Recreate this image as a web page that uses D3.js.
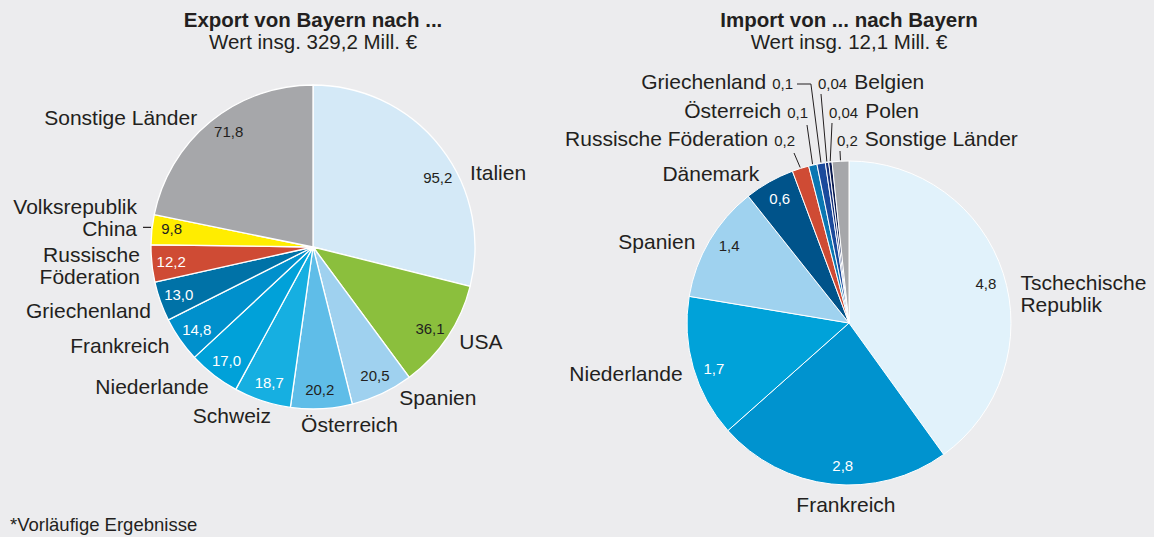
<!DOCTYPE html>
<html><head><meta charset="utf-8">
<script src="https://cdn.jsdelivr.net/npm/d3@7"></script>
<style>
body{margin:0;background:#ececee}
svg{display:block}
text{font-family:"Liberation Sans",Arial,Helvetica,sans-serif;fill:#231f20}
</style>
</head><body>
<svg id="chart" width="1154" height="537"></svg>
<script>
// ---------- DATA ----------
const exportTitle = "Export von Bayern nach ...";
const exportSubtitle = "Wert insg. 329,2 Mill. €";
const exportCountries = [["Italien"],["USA"],["Spanien"],["Österreich"],["Schweiz"],["Niederlande"],["Frankreich"],["Griechenland"],["Russische","Föderation"],["Volksrepublik","China"],["Sonstige Länder"]];
const exportValues = [95.2,36.1,20.5,20.2,18.7,17.0,14.8,13.0,12.2,9.8,71.8];

const importTitle = "Import von ... nach Bayern";
const importSubtitle = "Wert insg. 12,1 Mill. €";
const importCountries = [["Tschechische","Republik"],["Frankreich"],["Niederlande"],["Spanien"],["Dänemark"],["Russische Föderation"],["Österreich"],["Griechenland"],["Belgien"],["Polen"],["Sonstige Länder"]];
const importValues = [4.8,2.8,1.7,1.4,0.6,0.2,0.1,0.1,0.04,0.04,0.2];

const footnote = "*Vorläufige Ergebnisse";

// ---------- STYLE / LAYOUT ----------
const exportColors = ["#d4e9f7","#8bbf3d","#9fd1ef","#5fbde8","#16afe1","#00a1d9","#0090cc","#0072a7","#cf4b34","#ffed00","#a6a7aa"];
const exportValueFill = ["#231f20","#231f20","#231f20","#231f20","#fff","#fff","#fff","#fff","#fff","#231f20","#231f20"];
const exportNameAnchor = ["start","start","start","middle","end","end","end","end","end","end","end"];
const exportNameNudge = [12.5,-1,-4.5,-9.1,-4.3,-0.9,0.5,-1.7,-0.2,0,-2.5];
const exportValueNudge = [9,1,-0.5,0.3,-0.4,-0.4,-0.5,0,0,1.4,3];

const importColors = ["#e1f2fb","#0093cf","#00a2d9","#9fd2ef","#00538a","#cf4b34","#0a77b2","#1b4a9c","#142f79","#0b1b4f","#a6a7aa"];
const importValueFill = ["#231f20","#fff","#fff","#231f20","#fff"];
const importNameAnchor = ["start","middle","end","end","end"];
const importNameNudge = [8,-5.3,-0.9,-2.5,-1.6];
const importValueNudge = [1.7,-3.8,-2.5,2.3,0.4];
// small slices: row (0 top), side, x offset from pie centre of the value text anchor
const importSmall = {5:{row:2,side:"L",x:-54},6:{row:1,side:"L",x:-41},7:{row:0,side:"L",x:-56,elbow:true},
                     8:{row:0,side:"R",x:-31},9:{row:1,side:"R",x:-20},10:{row:2,side:"R",x:-12}};
const smallRowOffsets = [-72,-43,-15];

const svg = d3.select("#chart");
const fmt = v => v.toFixed(v < 0.1 ? 2 : 1).replace(".", ",");
const rad = d => d * Math.PI / 180;
const pt = (a, R) => [R * Math.sin(a), -R * Math.cos(a)];
const TXT = "#231f20";

function drawPie(cfg) {
  const g = svg.append("g").attr("transform", `translate(${cfg.cx},${cfg.cy})`);
  const data = cfg.values.map((v, i) => ({value: v, names: cfg.names[i], i}));
  const arcs = d3.pie().sort(null).value(d => d.value)(data);
  const arc = d3.arc().innerRadius(0).outerRadius(cfg.r);

  g.selectAll("path.slice").data(arcs).join("path")
    .attr("class","slice")
    .attr("d", arc)
    .attr("fill", d => cfg.colors[d.index])
    .attr("stroke", "#fff")
    .attr("stroke-width", cfg.stroke)
    .attr("stroke-linejoin", "round");

  // titles
  svg.append("text").attr("x", cfg.cx).attr("y", 27).attr("text-anchor","middle")
    .attr("font-size", 20.5).attr("font-weight","bold").text(cfg.title);
  svg.append("text").attr("x", cfg.cx).attr("y", 49).attr("text-anchor","middle")
    .attr("font-size", 20.5).text(cfg.subtitle);

  arcs.forEach(d => {
    const i = d.index;
    const mid = (d.startAngle + d.endAngle) / 2;
    const small = cfg.small && cfg.small[i];
    if (!small) {
      const va = mid + rad(cfg.valueNudge[i] || 0);
      const vp = pt(va, cfg.r * 0.88);
      g.append("text").attr("x", vp[0]).attr("y", vp[1]).attr("dy","0.35em")
        .attr("text-anchor","middle").attr("font-size", 15)
        .style("fill", cfg.valueFill[i]).text(fmt(d.value));
      const na = mid + rad(cfg.nameNudge[i] || 0);
      const np = pt(na, 174);
      const anchor = cfg.nameAnchor[i];
      let cy = np[1];
      if (anchor === "middle") cy += 8 * (-Math.cos(na));
      let tx = np[0];
      const lines = d.data.names;
      const lh = 22;
      let firstY;
      if (cfg.lastLineAt && cfg.lastLineAt[i]) {
        firstY = cy - (lines.length - 1) * lh;
        tx = np[0] - 3;
        g.append("line").attr("x1", np[0] + 3).attr("x2", np[0] + 11)
          .attr("y1", cy - 1).attr("y2", cy - 1).attr("stroke", TXT).attr("stroke-width", 1.2);
      } else {
        firstY = cy - (lines.length - 1) * lh / 2;
      }
      lines.forEach((ln, k) => {
        g.append("text").attr("x", tx).attr("y", firstY + k * lh).attr("dy","0.35em")
          .attr("text-anchor", anchor).attr("font-size", 21).text(ln);
      });
    } else {
      const baseY = -cfg.r + smallRowOffsets[small.row];
      const vx = small.x;
      const vt = g.append("text").attr("x", vx).attr("y", baseY)
        .attr("text-anchor", small.side === "L" ? "end" : "start")
        .attr("font-size", 15).text(fmt(d.value));
      const w = vt.node().getComputedTextLength();
      const nx = small.side === "L" ? vx - w - 6 : vx + w + 7;
      g.append("text").attr("x", nx).attr("y", baseY)
        .attr("text-anchor", small.side === "L" ? "end" : "start")
        .attr("font-size", 21).text(d.data.names[0]);
      const ep = pt(mid, cfg.r + 1);
      let pts;
      if (small.elbow) {
        const ex = ep[0] - 10;
        pts = [[vx + 4, baseY - 5], [ex, baseY - 5], ep];
      } else if (small.side === "L") {
        pts = [[vx - 1, baseY + 7], ep];
      } else {
        pts = [[vx + 3, baseY + 5], ep];
      }
      g.append("path").attr("d", d3.line()(pts)).attr("fill","none")
        .attr("stroke", TXT).attr("stroke-width", 1);
    }
  });
}

drawPie({cx:313, cy:247, r:162, stroke:1.3, title:exportTitle, subtitle:exportSubtitle,
  values:exportValues, names:exportCountries, colors:exportColors, valueFill:exportValueFill,
  nameAnchor:exportNameAnchor, nameNudge:exportNameNudge, valueNudge:exportValueNudge,
  lastLineAt:{9:true}});

drawPie({cx:849, cy:323, r:162, stroke:1, title:importTitle, subtitle:importSubtitle,
  values:importValues, names:importCountries, colors:importColors, valueFill:importValueFill,
  nameAnchor:importNameAnchor, nameNudge:importNameNudge, valueNudge:importValueNudge,
  small:importSmall});

svg.append("text").attr("x", 10).attr("y", 531).attr("font-size", 18.5).text(footnote);
</script>
</body></html>
